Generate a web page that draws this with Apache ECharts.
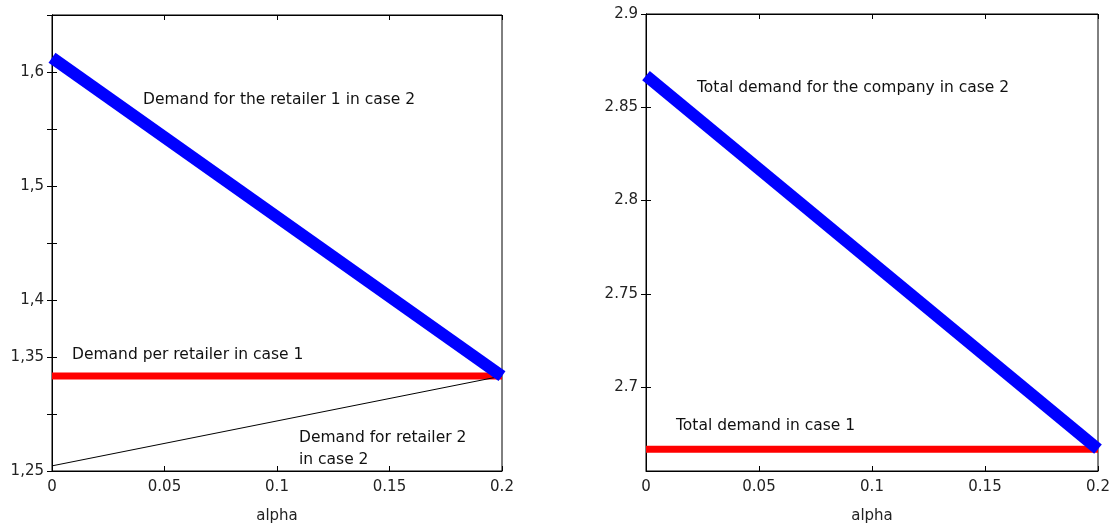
<!DOCTYPE html>
<html><head><meta charset="utf-8">
<script src="https://cdn.jsdelivr.net/npm/echarts@6/dist/echarts.min.js"></script>
<style>html,body{margin:0;padding:0;background:#fff}#c{width:1115px;height:529px}</style>
</head><body><div id="c"></div>
<script>
const alphaX = [0, 0.2];
const xTicks = [0, 0.05, 0.1, 0.15, 0.2];
// Left panel
const retailer1Case2 = [1.6125, 1.3333];
const perRetailerCase1 = [1.3333, 1.3333];
const retailer2Case2 = [1.2545, 1.3333];
const leftTickValues = [1.25, 1.3, 1.35, 1.4, 1.45, 1.5, 1.55, 1.6, 1.65];
const leftLabelValues = [1.25, 1.35, 1.4, 1.5, 1.6];
// Right panel
const totalCase2 = [2.867, 2.6667];
const totalCase1 = [2.6667, 2.6667];
const rightTickValues = [2.7, 2.75, 2.8, 2.85, 2.9];

const font = '"DejaVu Sans", sans-serif';
const lblStyle = {color:'#222', fontSize:15, fontFamily:font};

function pairs(xs, ys){ return xs.map((x,i)=>[x, ys[i]]); }

const grids = [
  {left:52, top:15, width:450, height:464, show:true, borderColor:'#000', borderWidth:1},
  {left:646, top:14, width:452, height:465, show:true, borderColor:'#000', borderWidth:1}
];

function xAx(gi, pos, labels){
  return {type:'value', gridIndex:gi, position:pos, min:0, max:0.2, interval:0.05,
    axisLine:{show:true, lineStyle:{color:'#000'}},
    axisTick:{show:true, inside:true, length:5, customValues:xTicks, lineStyle:{color:'#000'}},
    axisLabel:{show:labels, margin:9, ...lblStyle, customValues:xTicks, formatter:v=>String(+v.toFixed(2))},
    splitLine:{show:false},
    name: labels ? 'alpha' : '', nameLocation:'middle', nameGap:38,
    nameTextStyle:{...lblStyle}};
}
function yAx(gi, pos, min, max, ticks, labels, fmt){
  return {type:'value', gridIndex:gi, position:pos, min:min, max:max,
    axisLine:{show:true, lineStyle:{color:'#000'}},
    axisTick:{show:true, inside:true, length:5, customValues:ticks, lineStyle:{color:'#000'}},
    axisLabel:{show:!!labels, margin:8, ...lblStyle, customValues:labels||[], formatter:fmt},
    splitLine:{show:false}};
}
const commaFmt = v => String(+v.toFixed(2)).replace('.', ',');
const dotFmt = v => String(+v.toFixed(2));

const option = {
  animation:false,
  grid: grids,
  xAxis: [xAx(0,'bottom',true), xAx(0,'top',false), xAx(1,'bottom',true), xAx(1,'top',false)],
  yAxis: [
    yAx(0,'left',1.25,1.65,leftTickValues,leftLabelValues,commaFmt),
    yAx(0,'right',1.25,1.65,leftTickValues,null,commaFmt),
    yAx(1,'left',2.655,2.9,rightTickValues,rightTickValues,dotFmt),
    yAx(1,'right',2.655,2.9,rightTickValues,null,dotFmt)
  ],
  series: [
    {type:'line', xAxisIndex:0, yAxisIndex:0, data:pairs(alphaX, perRetailerCase1), symbol:'none', lineStyle:{color:'#ff0000', width:7}},
    {type:'line', xAxisIndex:0, yAxisIndex:0, data:pairs(alphaX, retailer2Case2), symbol:'none', lineStyle:{color:'#000', width:1}},
    {type:'line', xAxisIndex:0, yAxisIndex:0, data:pairs(alphaX, retailer1Case2), symbol:'none', lineStyle:{color:'#0000ff', width:12}},
    {type:'line', xAxisIndex:2, yAxisIndex:2, data:pairs(alphaX, totalCase1), symbol:'none', lineStyle:{color:'#ff0000', width:7}},
    {type:'line', xAxisIndex:2, yAxisIndex:2, data:pairs(alphaX, totalCase2), symbol:'none', lineStyle:{color:'#0000ff', width:12}}
  ],
  graphic: [
    {type:'text', left:143, top:92, style:{text:'Demand for the retailer 1 in case 2', fill:'#111', font:'15.5px '+font}},
    {type:'text', left:72, top:347, style:{text:'Demand per retailer in case 1', fill:'#111', font:'15.5px '+font}},
    {type:'text', left:299, top:427, style:{text:'Demand for retailer 2\nin case 2', fill:'#111', font:'15.5px '+font, lineHeight:22}},
    {type:'text', left:697, top:80, style:{text:'Total demand for the company in case 2', fill:'#111', font:'15.5px '+font}},
    {type:'text', left:676, top:418, style:{text:'Total demand in case 1', fill:'#111', font:'15.5px '+font}}
  ]
};
echarts.init(document.getElementById('c'), null, {renderer:'canvas'}).setOption(option);
</script></body></html>
